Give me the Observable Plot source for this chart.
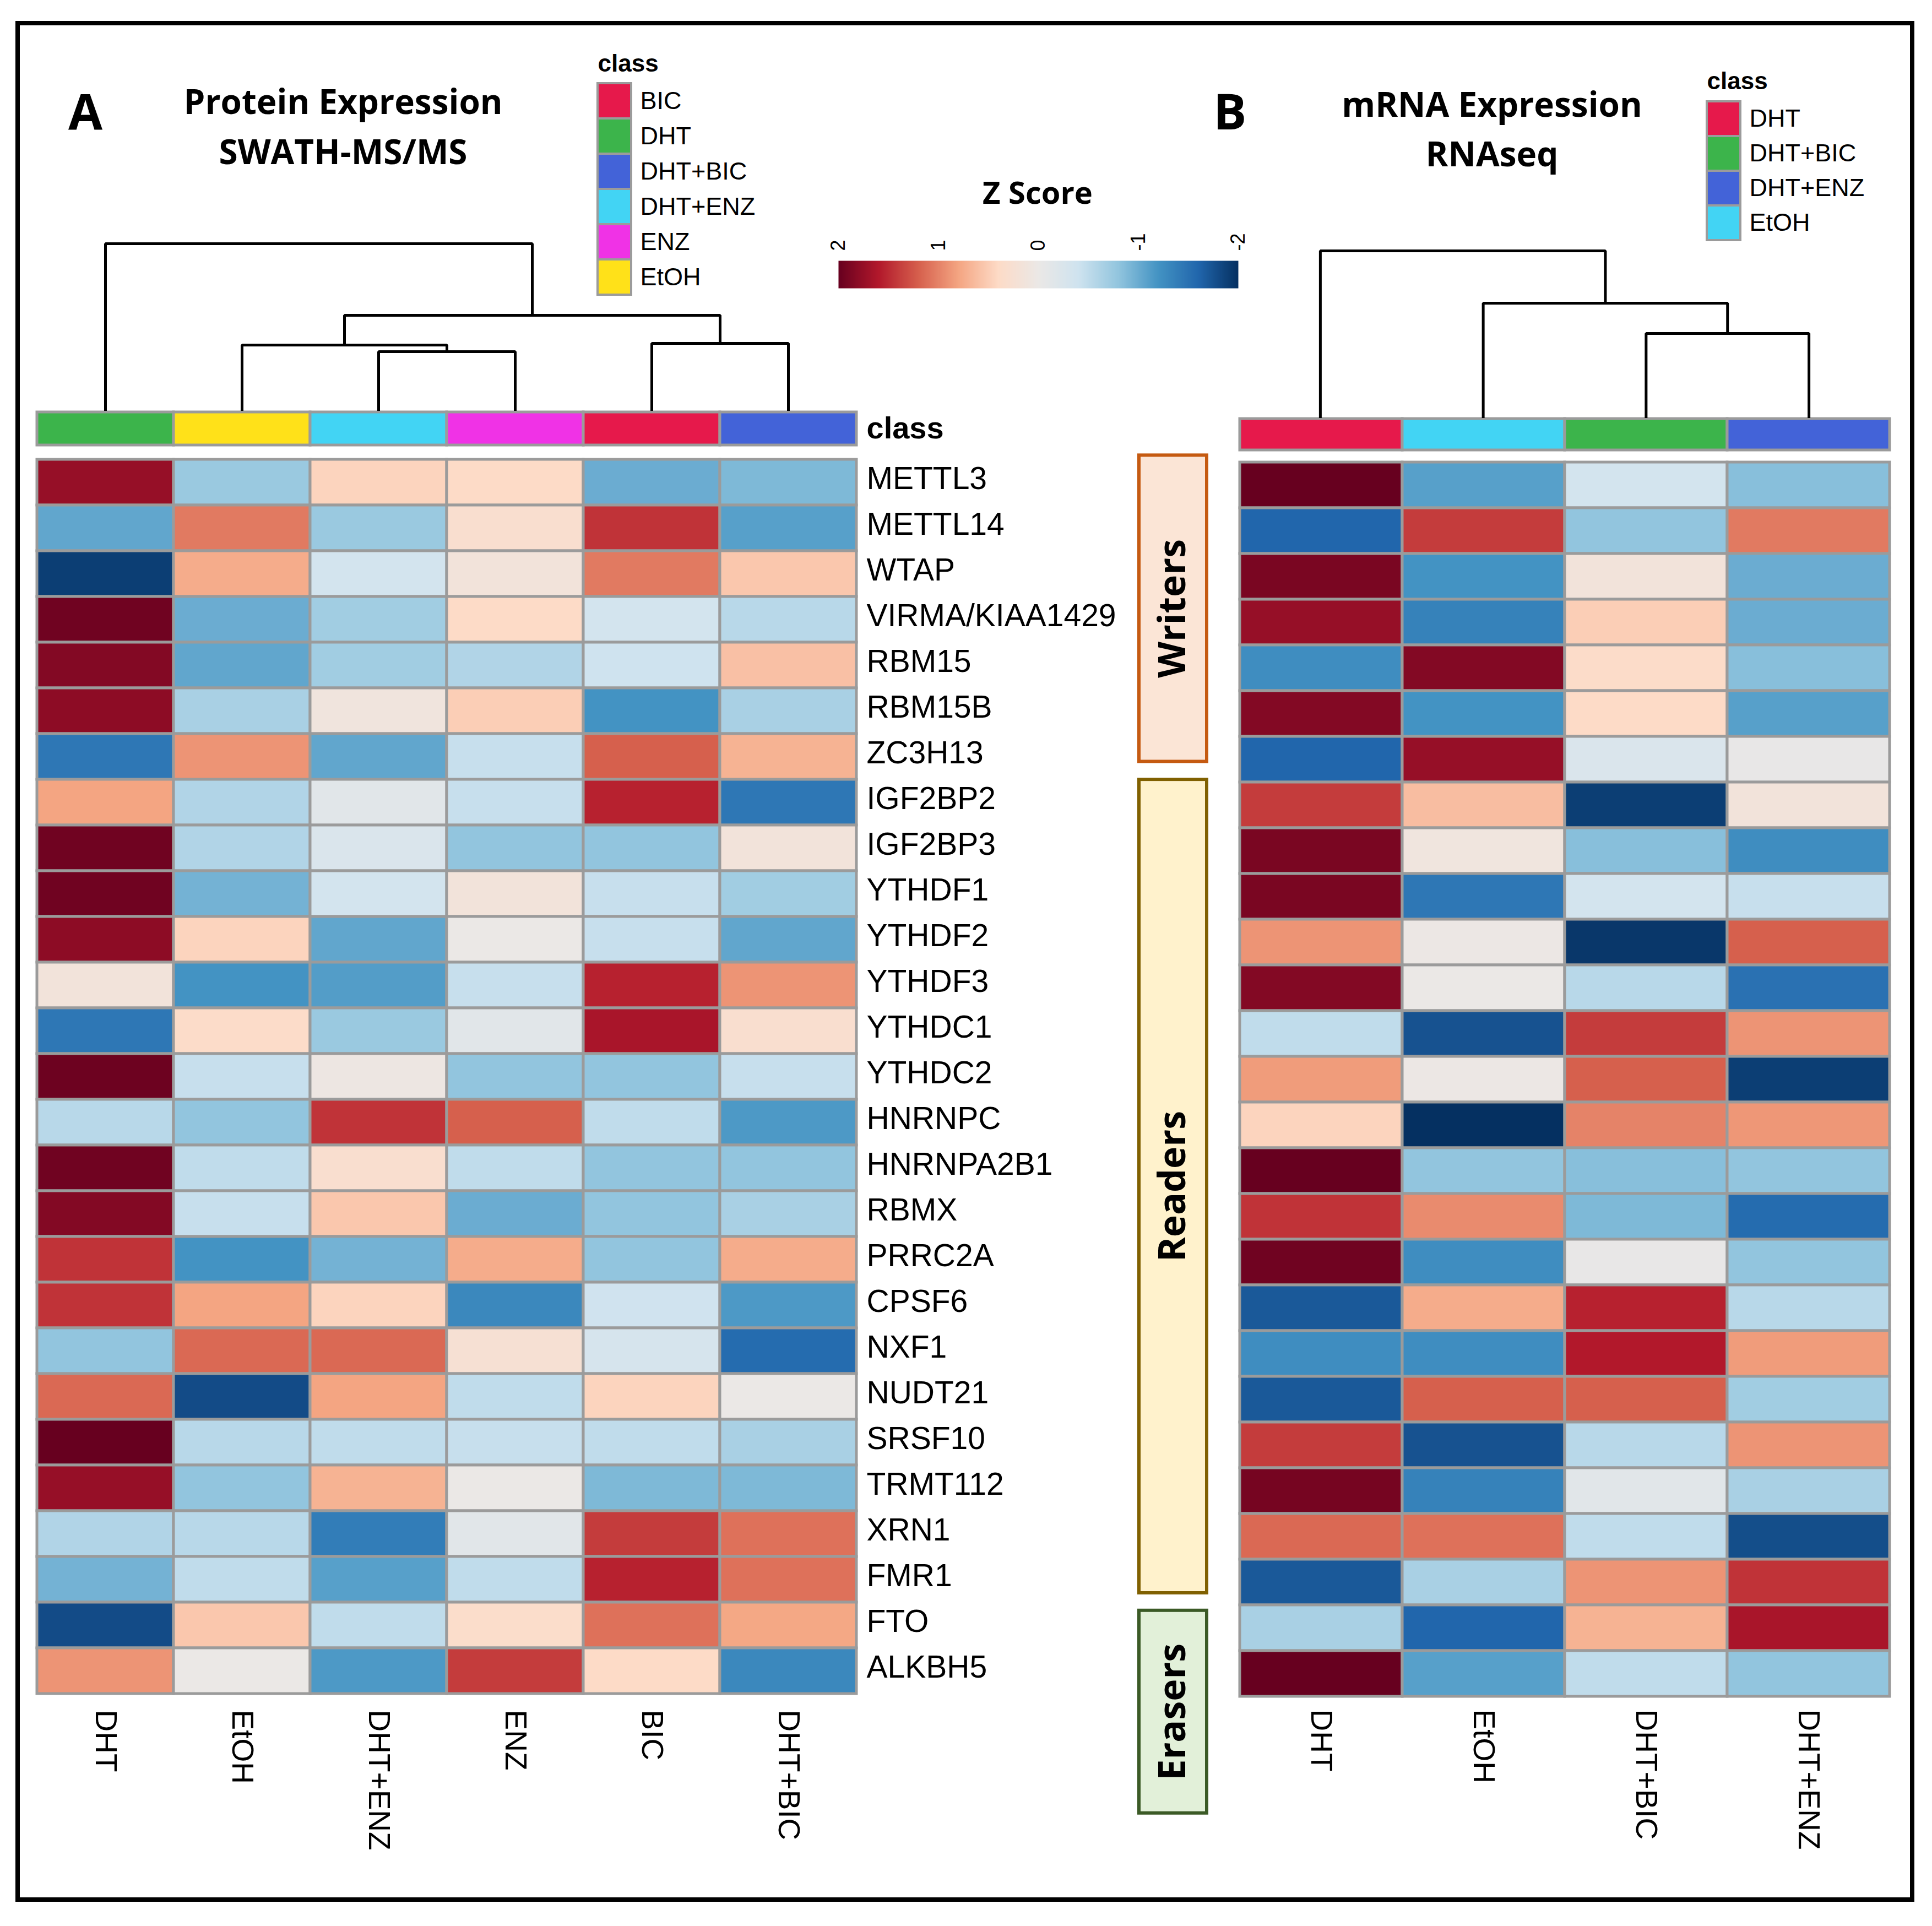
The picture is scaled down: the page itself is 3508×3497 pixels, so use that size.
<!DOCTYPE html>
<html><head><meta charset="utf-8">
<script src="https://cdn.jsdelivr.net/npm/d3@7"></script>
<script src="https://cdn.jsdelivr.net/npm/@observablehq/plot@0.6"></script>
<style>
body{margin:0;background:#fff;}
#page{position:relative;width:3508px;height:3497px;background:#fff;overflow:hidden;}
.ttl{position:absolute;font-family:"Open Sans",sans-serif;font-weight:700;color:#000;white-space:nowrap;line-height:1;}
</style></head><body><div id="page"></div>
<script>
// ---------------- data ----------------
const genes = ["METTL3","METTL14","WTAP","VIRMA/KIAA1429","RBM15","RBM15B","ZC3H13","IGF2BP2","IGF2BP3","YTHDF1","YTHDF2","YTHDF3","YTHDC1","YTHDC2","HNRNPC","HNRNPA2B1","RBMX","PRRC2A","CPSF6","NXF1","NUDT21","SRSF10","TRMT112","XRN1","FMR1","FTO","ALKBH5"];

const proteinColumns = ["DHT","EtOH","DHT+ENZ","ENZ","BIC","DHT+BIC"];
const mrnaColumns = ["DHT","EtOH","DHT+BIC","DHT+ENZ"];

// Z scores, one row per gene, columns in the order above
const proteinZ = [
  [1.75,-0.75,0.45,0.4,-1.0,-0.9],
  [-1.05,1.05,-0.75,0.3,1.45,-1.1],
  [-1.9,0.75,-0.35,0.15,1.05,0.55],
  [1.95,-1.0,-0.7,0.4,-0.35,-0.55],
  [1.85,-1.05,-0.7,-0.6,-0.4,0.6],
  [1.8,-0.65,0.12,0.5,-1.2,-0.65],
  [-1.45,0.9,-1.05,-0.45,1.2,0.7],
  [0.8,-0.6,-0.15,-0.45,1.55,-1.45],
  [1.95,-0.6,-0.25,-0.8,-0.8,0.15],
  [1.95,-0.95,-0.35,0.15,-0.45,-0.7],
  [1.8,0.45,-1.05,0.0,-0.45,-1.05],
  [0.15,-1.2,-1.12,-0.45,1.55,0.9],
  [-1.45,0.38,-0.75,-0.15,1.65,0.3],
  [1.97,-0.45,0.05,-0.8,-0.8,-0.45],
  [-0.55,-0.8,1.45,1.2,-0.5,-1.15],
  [1.95,-0.5,0.3,-0.5,-0.8,-0.8],
  [1.85,-0.45,0.55,-1.0,-0.8,-0.65],
  [1.45,-1.2,-0.95,0.75,-0.8,0.75],
  [1.45,0.8,0.45,-1.3,-0.38,-1.15],
  [-0.8,1.15,1.15,0.25,-0.3,-1.55],
  [1.15,-1.8,0.8,-0.5,0.45,0.0],
  [2.0,-0.55,-0.5,-0.45,-0.5,-0.65],
  [1.75,-0.8,0.7,0.0,-0.9,-0.9],
  [-0.6,-0.55,-1.4,-0.15,1.4,1.1],
  [-0.95,-0.5,-1.1,-0.5,1.55,1.1],
  [-1.8,0.55,-0.5,0.35,1.1,0.78],
  [0.9,0.0,-1.15,1.4,0.4,-1.3]
];
const mrnaZ = [
  [2.0,-1.1,-0.35,-0.85],
  [-1.6,1.4,-0.8,1.05],
  [1.9,-1.2,0.15,-1.0],
  [1.75,-1.35,0.5,-1.0],
  [-1.25,1.85,0.38,-0.85],
  [1.85,-1.2,0.4,-1.1],
  [-1.6,1.75,-0.25,-0.05],
  [1.4,0.62,-1.9,0.15],
  [1.9,0.1,-0.85,-1.25],
  [1.9,-1.45,-0.35,-0.45],
  [0.9,0.02,-1.95,1.2],
  [1.85,0.0,-0.55,-1.5],
  [-0.5,-1.75,1.4,0.9],
  [0.85,0.03,1.2,-1.9],
  [0.45,-2.0,1.0,0.88],
  [2.0,-0.8,-0.85,-0.8],
  [1.45,0.95,-0.9,-1.55],
  [1.95,-1.25,-0.05,-0.8],
  [-1.7,0.75,1.55,-0.55],
  [-1.25,-1.25,1.6,0.85],
  [-1.7,1.2,1.2,-0.7],
  [1.4,-1.75,-0.55,0.9],
  [1.92,-1.35,-0.15,-0.65],
  [1.15,1.1,-0.5,-1.78],
  [-1.7,-0.65,0.9,1.45],
  [-0.65,-1.6,0.7,1.65],
  [2.0,-1.1,-0.5,-0.8]
];

// dendrogram merges (leaf or cluster ids, merge height)
const proteinMerges = [
  {id:"p1", left:"DHT+ENZ", right:"ENZ", height:105},
  {id:"p2", left:"EtOH", right:"p1", height:117},
  {id:"p3", left:"BIC", right:"DHT+BIC", height:120},
  {id:"p4", left:"p2", right:"p3", height:171},
  {id:"p5", left:"DHT", right:"p4", height:301}
];
const mrnaMerges = [
  {id:"m1", left:"DHT+BIC", right:"DHT+ENZ", height:151},
  {id:"m2", left:"EtOH", right:"m1", height:206},
  {id:"m3", left:"DHT", right:"m2", height:301}
];

// class legends
const proteinClasses = ["BIC","DHT","DHT+BIC","DHT+ENZ","ENZ","EtOH"];
const proteinClassColors = ["#e6194b","#3cb44b","#4363d8","#42d4f4","#f032e6","#ffe119"];
const mrnaClasses = ["DHT","DHT+BIC","DHT+ENZ","EtOH"];
const mrnaClassColors = ["#e6194b","#3cb44b","#4363d8","#42d4f4"];

// functional groups (row spans, in row units from the top)
const groupNames = ["Writers","Readers","Erasers"];
const groupStart = [0.04, 7.08, 25.12];
const groupEnd = [6.69, 24.74, 29.52];

// Z score colour stops
const zStops = [-2,-1.6,-1.2,-0.8,-0.4,0,0.4,0.8,1.2,1.6,2];
const zColors = ["#053061","#2166ac","#4393c3","#92c5de","#cfe3ef","#ebe8e6","#fddbc7","#f4a582","#d6604d","#b2182b","#67001f"];
const zTicks = [2,1,0,-1,-2];

// ---------------- helpers ----------------
const page = document.getElementById("page");
const FONT = "'Liberation Sans', Arial, sans-serif";
const zColor = {type:"linear", domain: zStops, range: zColors, clamp:true};
const groupFill = ["#fbe5d6","#fff2cc","#e2f0d9"];
const groupStroke = ["#c55a11","#806000","#3b5a26"];

function place(el, left, top){
  el.style.position = "absolute";
  el.style.left = left + "px";
  el.style.top = top + "px";
  page.appendChild(el);
}
function title(txt, x, baseline, size, center){
  const d = document.createElement("div");
  d.className = "ttl";
  d.textContent = txt;
  d.style.fontSize = size + "px";
  d.style.left = x + "px";
  d.style.top = (baseline - 0.888*size) + "px";
  if (center) d.style.transform = "translateX(-50%)";
  page.appendChild(d);
}
const baseStyle = (fs) => ({fontFamily: FONT, fontSize: fs + "px", color:"#000", background:"none", overflow:"visible"});

function tidy(z, cols){
  return genes.flatMap((g,i) => cols.map((c,j) => ({gene:g, sample:c, z:z[i][j]})));
}
function dendroSegments(merges, cols){
  const pos = new Map(cols.map((c,i) => [c, {x:i, h:0}]));
  const segs = [];
  for (const m of merges){
    const a = pos.get(m.left), b = pos.get(m.right);
    segs.push({id:m.id, x:a.x, h:a.h},{id:m.id, x:a.x, h:m.height},{id:m.id, x:b.x, h:m.height},{id:m.id, x:b.x, h:b.h});
    pos.set(m.id, {x:(a.x+b.x)/2, h:m.height});
  }
  return segs;
}

// ---------------- outer frame ----------------
const frame = document.createElement("div");
frame.style.cssText = "width:3448px;height:3415px;border:8px solid #000;box-sizing:border-box;";
place(frame, 28, 38);

// ---------------- heatmaps ----------------
function heatmap(z, cols, w, h, withRowLabels){
  const mr = withRowLabels ? 500 : 3;
  return Plot.plot({
    width: 3 + w + mr, height: 3 + h + 320,
    marginLeft:3, marginTop:3, marginRight:mr, marginBottom:320,
    style: baseStyle(57),
    x:{domain: cols, padding:0, axis:null},
    y:{domain: genes, padding:0, axis:null},
    color: zColor,
    marks:[
      Plot.cell(tidy(z, cols), {x:"sample", y:"gene", fill:"z", stroke:"#9b9b9b", strokeWidth:5}),
      withRowLabels ? Plot.axisY({anchor:"right", tickSize:0, tickPadding:18, label:null, fontSize:57, dy:-6}) : null,
      Plot.axisX({anchor:"bottom", tickSize:0, tickPadding:20, tickRotate:90, label:null, fontSize:55})
    ]
  });
}
place(heatmap(proteinZ, proteinColumns, 1488, 2259, true), 64, 822);
place(heatmap(mrnaZ, mrnaColumns, 1183, 2247, false), 2246, 833);

// ---------------- class bars ----------------
function classBar(cols, classes, colors, w, h, withLabel){
  const mr = withLabel ? 200 : 3;
  return Plot.plot({
    width: 3 + w + mr, height: h + 6,
    marginLeft:3, marginTop:3, marginRight:mr, marginBottom:3,
    style: baseStyle(56),
    x:{domain: cols, padding:0, axis:null},
    y:{domain:["class"], padding:0, axis:null},
    color:{type:"ordinal", domain: classes, range: colors},
    marks:[
      Plot.cell(cols, {x:d=>d, y:()=>"class", fill:d=>d, stroke:"#9b9b9b", strokeWidth:5}),
      withLabel ? Plot.axisY({anchor:"right", tickSize:0, tickPadding:18, label:null, fontWeight:"bold", fontSize:56}) : null
    ]
  });
}
place(classBar(proteinColumns, proteinClasses, proteinClassColors, 1488, 60, true), 64, 745);
place(classBar(mrnaColumns, mrnaClasses, mrnaClassColors, 1183, 57, false), 2246, 757);

// ---------------- dendrograms ----------------
function dendro(merges, cols, w, h){
  const maxH = d3.max(merges, d => d.height);
  return Plot.plot({
    width: w + 8, height: h + 8, margin:4,
    style: baseStyle(20),
    x:{domain:[-0.5, cols.length - 0.5], axis:null},
    y:{domain:[0, maxH], axis:null},
    marks:[
      Plot.line(dendroSegments(merges, cols), {x:"x", y:"h", z:"id", stroke:"#000", strokeWidth:5, strokeLinejoin:"miter", strokeLinecap:"square", curve:"linear"})
    ]
  });
}
place(dendro(proteinMerges, proteinColumns, 1488, 301), 63, 438);
place(dendro(mrnaMerges, mrnaColumns, 1183, 301), 2245, 451);

// ---------------- class legends ----------------
function classLegend(classes, colors, swH){
  return Plot.plot({
    width: 3 + 61 + 330, height: 60 + swH*classes.length + 3,
    marginLeft:3, marginTop:60, marginRight:330, marginBottom:3,
    style: baseStyle(45),
    x:{domain:["s"], padding:0, axis:null},
    y:{domain: classes, padding:0, axis:null},
    color:{type:"ordinal", domain: classes, range: colors},
    marks:[
      Plot.cell(classes, {x:()=>"s", y:d=>d, fill:d=>d, stroke:"#9b9b9b", strokeWidth:4}),
      Plot.axisY({anchor:"right", tickSize:0, tickPadding:16, label:null, fontSize:45}),
      Plot.text(["class"], {frameAnchor:"top-left", lineAnchor:"middle", dy:-36, fontWeight:"bold", fontSize:44, textAnchor:"start"})
    ]
  });
}
place(classLegend(proteinClasses, proteinClassColors, 64), 1082, 91);
place(classLegend(mrnaClasses, mrnaClassColors, 63.5), 3096, 123);

// ---------------- Z score legend ----------------
const zLegend = Plot.plot({
  width: 726 + 6, height: 90 + 50 + 3,
  marginLeft:3, marginRight:3, marginTop:90, marginBottom:3,
  style: baseStyle(36),
  x:{domain:[2,-2], axis:null},
  y:{domain:[0,1], axis:null},
  color: zColor,
  marks:[
    Plot.raster({fill:(x, y) => x, x1:2, x2:-2, y1:0, y2:1, width:726, height:1, imageRendering:"auto"}),
    Plot.axisX({anchor:"top", ticks: zTicks, tickFormat: d => String(d), tickSize:0, tickPadding:18, tickRotate:-90, label:null, fontSize:36})
  ]
});
place(zLegend, 1519, 383);

// ---------------- functional group boxes ----------------
const groups = groupNames.map((n,i) => ({name:n, start:groupStart[i], end:groupEnd[i], mid:(groupStart[i]+groupEnd[i])/2}));
const groupPlot = Plot.plot({
  width: 123 + 10, height: 5 + 2258 + 260,
  marginLeft:5, marginRight:5, marginTop:5, marginBottom:260,
  style: baseStyle(68),
  x:{domain:[0,1], axis:null},
  y:{domain:[0,27], reverse:true, axis:null},
  marks:[
    groups.map((g,i) => Plot.rect([g], {x1:0, x2:1, y1:"start", y2:"end", fill:groupFill[i], stroke:groupStroke[i], strokeWidth:6})),
    Plot.text(groups, {y:"mid", text:"name", frameAnchor:"middle", rotate:-90, fontSize:68, fontWeight:700, fontFamily:"'Open Sans', sans-serif", fill:"#000"})
  ]
});
place(groupPlot, 2063, 818);

// ---------------- titles ----------------
title("A", 124, 235, 90, false);
title("Protein Expression", 623, 207, 62, true);
title("SWATH-MS/MS", 623, 298, 62, true);
title("B", 2203, 235, 90, false);
title("mRNA Expression", 2709, 212, 62, true);
title("RNAseq", 2709, 302, 62, true);
title("Z Score", 1884, 370, 56, true);
</script></body></html>
